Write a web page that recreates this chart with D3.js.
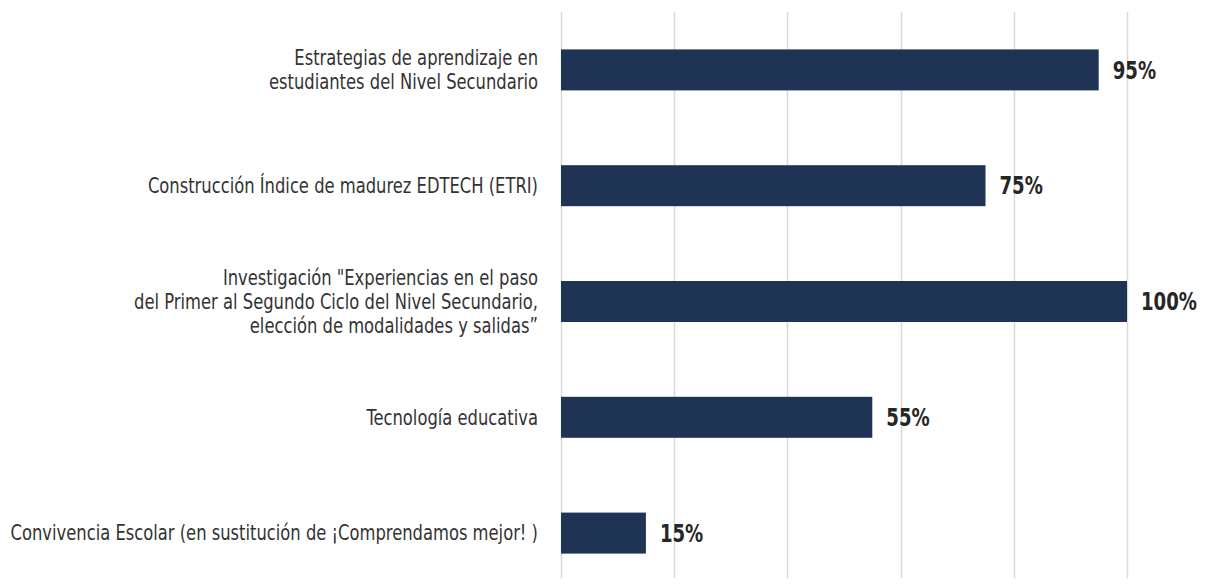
<!DOCTYPE html>
<html>
<head>
<meta charset="utf-8">
<script src="https://cdn.jsdelivr.net/npm/d3@7"></script>
<style>
  body { margin: 0; background: #fff; }
  text { font-family: "Liberation Sans Narrow", "DejaVu Sans Condensed", "DejaVu Sans", sans-serif; font-stretch: condensed; }
</style>
</head>
<body>
<svg id="chart"></svg>
<script>
// data
var categories = [
  ["Estrategias de aprendizaje en", "estudiantes del Nivel Secundario"],
  ["Construcción Índice de madurez EDTECH (ETRI)"],
  ["Investigación \"Experiencias en el paso", "del Primer al Segundo Ciclo del Nivel Secundario,", "elección de modalidades y salidas”"],
  ["Tecnología educativa"],
  ["Convivencia Escolar (en sustitución de ¡Comprendamos mejor! )"]
];
var values = [95, 75, 100, 55, 15];
var ticks = [0, 20, 40, 60, 80, 100];

var width = 1227, height = 585;
var svg = d3.select("#chart").attr("width", width).attr("height", height);

var x = d3.scaleLinear().domain([0, 100]).range([561, 1127]);
var y = d3.scaleBand()
  .domain(d3.range(categories.length))
  .range([12, 591])
  .paddingInner(0.646)
  .paddingOuter(0.323);

// vertical gridlines
svg.append("g")
  .selectAll("line")
  .data(ticks)
  .enter()
  .append("line")
  .attr("x1", d => Math.round(x(d)) + 0.5)
  .attr("x2", d => Math.round(x(d)) + 0.5)
  .attr("y1", 12)
  .attr("y2", 578)
  .style("stroke", "#d9d9d9")
  .style("stroke-width", 1.5);

// bars
svg.append("g")
  .selectAll("rect")
  .data(values)
  .enter()
  .append("rect")
  .attr("x", x(0))
  .attr("y", (d, i) => y(i))
  .attr("width", d => x(d) - x(0))
  .attr("height", y.bandwidth())
  .style("fill", "#1f3354");

// value labels
var valLabels = svg.append("g")
  .selectAll("text")
  .data(values)
  .enter()
  .append("text")
  .attr("y", (d, i) => y(i) + y.bandwidth() / 2)
  .attr("dy", "0.36em")
  .style("font-size", "24px")
  .style("font-weight", "bold")
  .style("fill", "#262626")
  .text(d => d + "%");

// squeeze to a condensed look if the font is too wide ("100%" is ~56px in the reference)
var w100 = valLabels.filter(d => d == 100).node().getComputedTextLength();
var vs = Math.min(1, 56 / w100);
valLabels.attr("transform", d => `translate(${x(d) + 14},0) scale(${vs},1)`);

// category labels
var lineH = 24;
var labels = svg.append("g")
  .selectAll("text")
  .data(categories)
  .enter()
  .append("text")
  .attr("text-anchor", "end")
  .style("font-size", "21px")
  .style("fill", "#333333");

labels.selectAll("tspan")
  .data(d => d.map((t, j) => ({ t: t, j: j, n: d.length })))
  .enter()
  .append("tspan")
  .attr("x", 0)
  .attr("y", d => (d.j - (d.n - 1) / 2) * lineH)
  .attr("dy", "0.35em")
  .text(d => d.t);

// longest label spans ~528px in the reference
var wLong = labels.filter((d, i) => i == 4).node().getBBox().width;
var ls = Math.min(1, 528 / wLong);
labels.attr("transform", (d, i) => `translate(${x(0) - 23}, ${y(i) + y.bandwidth() / 2}) scale(${ls},1)`);
</script>
</body>
</html>
